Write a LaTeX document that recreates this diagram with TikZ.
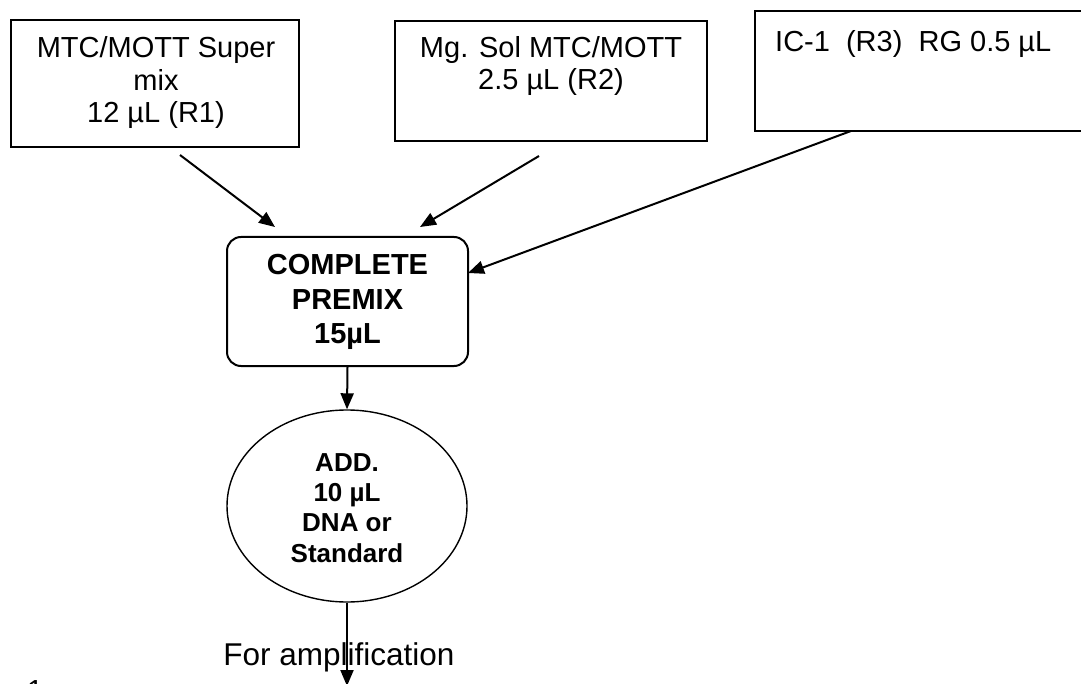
\documentclass[tikz,border=0pt]{standalone}
\usepackage{fontspec}
\setmainfont{Liberation Sans}
\usetikzlibrary{arrows.meta,shapes.geometric}
\begin{document}
\begin{tikzpicture}[x=1pt,y=-1pt,
  boxshape/.style={draw,line width=2pt,rectangle,inner sep=0pt},
  plain/.style={font=\fontsize{29}{32.5}\selectfont,align=center,inner sep=0pt},
  boldtxt/.style={font=\fontsize{29}{34.5}\selectfont\bfseries,align=center,inner sep=0pt},
  boldsm/.style={font=\fontsize{26}{30.3}\selectfont\bfseries,align=center,inner sep=0pt},
  conn/.style={line width=2pt,-{Triangle[length=16pt,width=13pt]}}]
\useasboundingbox (0,0) rectangle (1081,684);
% top boxes
\node[boxshape,minimum width=288pt,minimum height=127pt] (b1) at (155,84) {};
\node[plain] (t1) at (156,83) {MTC/MOTT Super\\mix\\12 µL (R1)};
\node[boxshape,minimum width=312.5pt,minimum height=120pt] (b2) at (551,81) {};
\node[plain] (t2) at (551,66) {Mg. Sol MTC/MOTT\\2.5 µL (R2)};
\node[boxshape,minimum width=340pt,minimum height=120pt] (b3) at (925,71) {};
\node[plain,anchor=base west] (t3) at (775,52) {IC-1\ \ (R3)\ \ RG 0.5 µL};
% premix
\node[draw,line width=2pt,rounded corners=14pt,minimum width=241pt,minimum height=129pt,inner sep=0pt] (pm) at (347.5,301.5) {};
\node[boldtxt] (tpm) at (347.5,302) {COMPLETE\\PREMIX\\15µL};
% ellipse
\node[draw,line width=1.4pt,ellipse,minimum width=240pt,minimum height=192pt,inner sep=0pt] (el) at (347,506) {};
\node[boldsm] (tel) at (347,508) {ADD.\\10 µL\\DNA or\\Standard};
% bottom label
\node[font=\fontsize{31.5}{34}\selectfont,inner sep=0pt,anchor=base] (amp) at (339,665.7) {For amplification};
\node[font=\fontsize{29}{32}\selectfont,inner sep=0pt,anchor=base west] (pg) at (27,700) {1};
% connectors
\coordinate (a1s) at (180,155);
\coordinate (a1e) at (275,227);
\coordinate (a2s) at (539,156);
\coordinate (a2e) at (420,227);
\coordinate (a3s) at (851,131);
\coordinate (a3e) at (468,273);
\coordinate (fin) at (347,686);
\draw[conn] (a1s) -- (a1e);
\draw[conn] (a2s) -- (a2e);
\draw[conn] (a3s) -- (a3e);
\draw[conn] (pm.south) -- (el.north);
\draw[conn] (el.south) -- (fin);
\end{tikzpicture}
\end{document}
